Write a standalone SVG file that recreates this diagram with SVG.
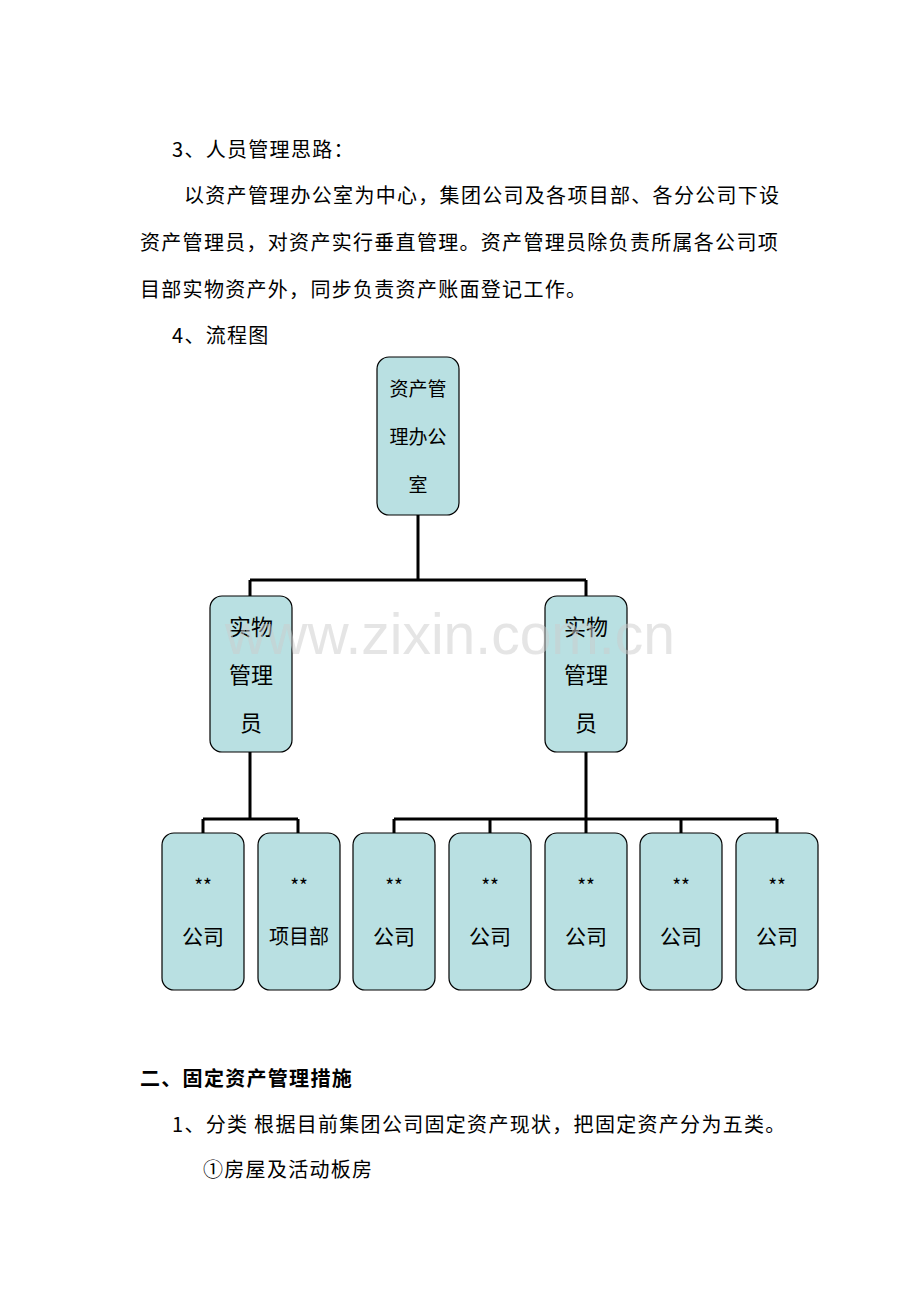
<svg xmlns="http://www.w3.org/2000/svg" width="920" height="1302" viewBox="0 0 920 1302">
<style>
.t{font-family:"Noto Sans CJK SC","Liberation Serif",serif;font-size:20px;letter-spacing:1.3px;fill:#000}
.n rect{fill:#b9e0e2;stroke:#000;stroke-width:1.2}
.n text{font-family:"Noto Sans CJK SC",sans-serif;fill:#000;text-anchor:middle}
.c{stroke:#000;stroke-width:3;fill:none}
.b{font-weight:bold}
</style>
<rect width="920" height="1302" fill="#fff"/>
<text class="t" x="172" y="157">3、人员管理思路：</text>
<text class="t" x="184" y="203">以资产管理办公室为中心，集团公司及各项目部、各分公司下设</text>
<text class="t" x="140" y="250">资产管理员，对资产实行垂直管理。资产管理员除负责所属各公司项</text>
<text class="t" x="140" y="297">目部实物资产外，同步负责资产账面登记工作。</text>
<text class="t" x="172" y="343">4、流程图</text>
<g id="connectors">
<path class="c" d="M418 515V580M250 580H586M250 580V596M586 580V596"/>
<path class="c" d="M250 752V819M203 819H298M203 819V833M298 819V833"/>
<path class="c" d="M586 752V819M394 819H777M394 819V833M490 819V833M586 819V833M681 819V833M777 819V833"/>
</g>
<g id="n0" class="n"><rect x="377" y="357" width="82" height="158" rx="12"/>
<text x="418" y="396" font-size="19">资产管</text><text x="418" y="444" font-size="19">理办公</text><text x="418" y="492" font-size="19">室</text></g>
<g id="n1" class="n"><rect x="210" y="596" width="82" height="156" rx="12"/>
<text x="251" y="635" font-size="22">实物</text><text x="251" y="683" font-size="22">管理</text><text x="251" y="731" font-size="22">员</text></g>
<g id="n2" class="n"><rect x="545" y="596" width="82" height="156" rx="12"/>
<text x="586" y="635" font-size="22">实物</text><text x="586" y="683" font-size="22">管理</text><text x="586" y="731" font-size="22">员</text></g>
<g id="b1" class="n"><rect x="162" y="833" width="82" height="157" rx="12"/><text x="203" y="893" font-size="19">**</text><text x="203" y="944" font-size="21">公司</text></g>
<g id="b2" class="n"><rect x="258" y="833" width="82" height="157" rx="12"/><text x="299" y="893" font-size="19">**</text><text x="299" y="944" font-size="20">项目部</text></g>
<g id="b3" class="n"><rect x="353" y="833" width="82" height="157" rx="12"/><text x="394" y="893" font-size="19">**</text><text x="394" y="944" font-size="21">公司</text></g>
<g id="b4" class="n"><rect x="449" y="833" width="82" height="157" rx="12"/><text x="490" y="893" font-size="19">**</text><text x="490" y="944" font-size="21">公司</text></g>
<g id="b5" class="n"><rect x="545" y="833" width="82" height="157" rx="12"/><text x="586" y="893" font-size="19">**</text><text x="586" y="944" font-size="21">公司</text></g>
<g id="b6" class="n"><rect x="640" y="833" width="82" height="157" rx="12"/><text x="681" y="893" font-size="19">**</text><text x="681" y="944" font-size="21">公司</text></g>
<g id="b7" class="n"><rect x="736" y="833" width="82" height="157" rx="12"/><text x="777" y="893" font-size="19">**</text><text x="777" y="944" font-size="21">公司</text></g>
<text x="450" y="654" font-family="Liberation Sans,sans-serif" font-size="57" fill="#cccccc" fill-opacity="0.5" text-anchor="middle">www.zixin.com.cn</text>
<text class="t b" x="140" y="1086">二、固定资产管理措施</text>
<text class="t" x="172" y="1132">1、分类 根据目前集团公司固定资产现状，把固定资产分为五类。</text>
<text class="t" x="203" y="1177">①房屋及活动板房</text>
</svg>
